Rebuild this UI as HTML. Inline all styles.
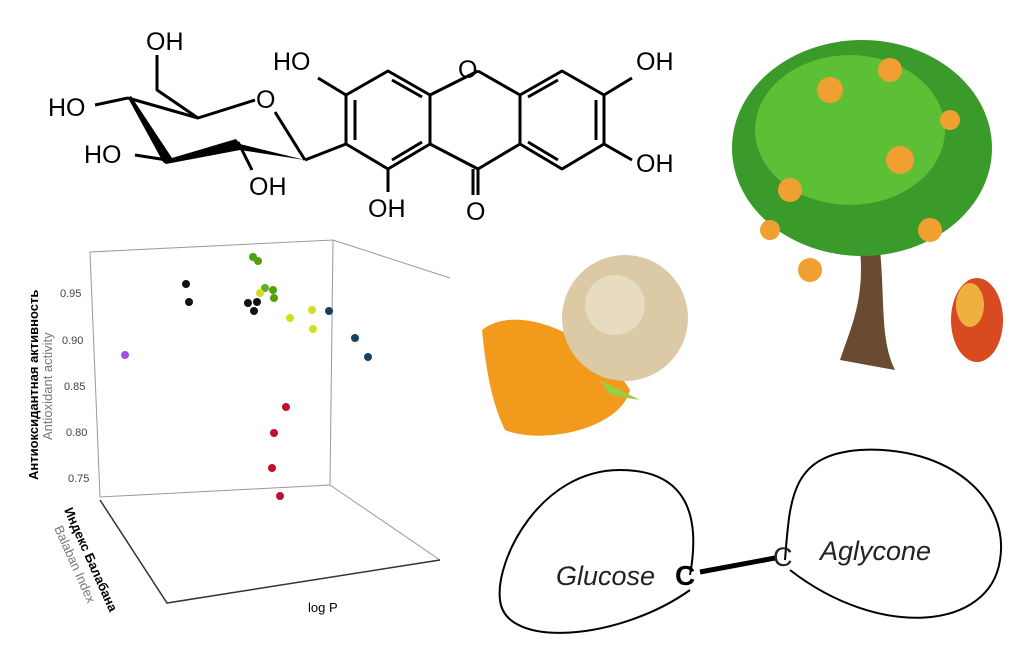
<!DOCTYPE html>
<html><head><meta charset="utf-8"><style>
html,body{margin:0;padding:0;background:#fff;}
svg{display:block;font-family:"Liberation Sans",sans-serif;}
</style></head><body>
<svg width="1028" height="672" viewBox="0 0 1028 672" xmlns="http://www.w3.org/2000/svg">
<rect width="1028" height="672" fill="#fff"/>
<!-- Chemical structure -->
<g stroke="#000" stroke-width="3" fill="none" stroke-linejoin="round">
<polygon points="388,71 430,95 430,144 388,169 346,144 346,95"/>
<path d="M430,95 L478,71 M478,71 L520,95 M430,144 L478,169 L520,144"/>
<polygon points="562,71 604,95 604,144 562,169 520,144 520,95"/>
<path d="M355,100 L355,140 M392,80 L422,97 M392,160 L422,142"/>
<path d="M596,100 L596,140 M558,80 L528,97 M558,160 L528,142"/>
<path d="M478,169 L478,195 M473,169 L473,195"/>
<path d="M346,95 L318,78 M604,95 L632,78 M604,144 L632,160 M388,169 L388,192"/>
<!-- sugar -->
<path d="M346,144 L305,160"/>
<path d="M305,160 L275,112 M255,100 L198,118 L128,98 M198,118 L157,90 L157,55"/>
<path d="M128,98 L95,105 M167,160 L135,155 M238,142 L252,170"/>
</g>
<polygon points="128,98 131,96 172,158 236,139 240,144 305,160 240,150 166,164 163,162" fill="#000"/>
<g font-size="25" fill="#000">
<text x="458" y="78">O</text>
<text x="273" y="70">HO</text>
<text x="636" y="70">OH</text>
<text x="636" y="172">OH</text>
<text x="368" y="217">OH</text>
<text x="466" y="220">O</text>
<text x="146" y="50">OH</text>
<text x="48" y="116">HO</text>
<text x="84" y="163">HO</text>
<text x="249" y="195">OH</text>
<text x="256" y="108">O</text>
</g>
<!-- tree -->
<path d="M860,250 C865,300 850,330 840,360 L895,370 C880,340 885,300 880,250 Z" fill="#6b4a32"/>
<ellipse cx="862" cy="148" rx="130" ry="108" fill="#3a9a2a"/>
<ellipse cx="850" cy="130" rx="95" ry="75" fill="#5cbf36"/>
<g fill="#f0a030">
<circle cx="900" cy="160" r="14"/><circle cx="830" cy="90" r="13"/><circle cx="790" cy="190" r="12"/>
<circle cx="930" cy="230" r="12"/><circle cx="810" cy="270" r="12"/><circle cx="890" cy="70" r="12"/>
<circle cx="950" cy="120" r="10"/><circle cx="770" cy="230" r="10"/>
</g>
<ellipse cx="977" cy="320" rx="26" ry="42" fill="#d84a20"/>
<ellipse cx="970" cy="305" rx="14" ry="22" fill="#f0b040"/>
<!-- mango -->
<path d="M482,330 C520,300 600,340 630,390 C620,430 540,445 505,430 C490,400 485,360 482,330 Z" fill="#f29a1c"/>
<path d="M600,380 L640,400 L610,395 Z" fill="#9ccc40"/>
<circle cx="625" cy="318" r="63" fill="#dccaa6"/>
<circle cx="615" cy="305" r="30" fill="#e8dcc0"/>
<!-- 3D plot -->
<g stroke="#999" stroke-width="1" fill="none">
<path d="M90,252 L100,497 L330,485 L333,240 Z"/>
<path d="M333,240 L450,278 M330,485 L440,560"/>
</g>
<path d="M100,500 L167,603 L440,560" stroke="#333" stroke-width="1.5" fill="none"/>
<g font-size="11" fill="#444">
<text x="60" y="297">0.95</text><text x="62" y="344">0.90</text><text x="64" y="390">0.85</text>
<text x="66" y="436">0.80</text><text x="68" y="482">0.75</text>
</g>
<text transform="translate(38,480) rotate(-90)" font-size="13" font-weight="bold" fill="#000">Антиоксидантная активность</text>
<text transform="translate(52,440) rotate(-90)" font-size="13" fill="#777">Antioxidant activity</text>
<text transform="translate(64,510) rotate(66)" font-size="13" font-weight="bold" fill="#000">Индекс Балабана</text>
<text transform="translate(54,528) rotate(66)" font-size="13" fill="#777">Balaban Index</text>
<text x="308" y="612" font-size="13" fill="#000">log P</text>
<g>
<circle cx="125" cy="355" r="4" fill="#a050e0"/>
<circle cx="186" cy="284" r="4" fill="#111"/><circle cx="189" cy="302" r="4" fill="#111"/>
<circle cx="248" cy="303" r="4" fill="#111"/><circle cx="257" cy="302" r="4" fill="#111"/><circle cx="254" cy="311" r="4" fill="#111"/>
<circle cx="253" cy="257" r="4" fill="#50a010"/><circle cx="258" cy="261" r="4" fill="#50a010"/>
<circle cx="265" cy="288" r="4" fill="#60b020"/><circle cx="273" cy="290" r="4" fill="#50a010"/><circle cx="274" cy="298" r="4" fill="#50a010"/>
<circle cx="260" cy="293" r="4" fill="#d0e020"/><circle cx="290" cy="318" r="4" fill="#d0e020"/>
<circle cx="312" cy="310" r="4" fill="#d0e020"/><circle cx="313" cy="329" r="4" fill="#d0e020"/>
<circle cx="329" cy="311" r="4" fill="#1a4060"/><circle cx="355" cy="338" r="4" fill="#1a4060"/><circle cx="368" cy="357" r="4" fill="#1a4060"/>
<circle cx="286" cy="407" r="4" fill="#c01030"/><circle cx="274" cy="433" r="4" fill="#c01030"/>
<circle cx="272" cy="468" r="4" fill="#c01030"/><circle cx="280" cy="496" r="4" fill="#c01030"/>
</g>
<!-- Glucose-aglycone -->
<g stroke="#000" stroke-width="2" fill="none">
<path d="M690,575 C700,520 690,470 620,470 C540,470 495,560 500,600 C505,650 620,640 690,590"/>
<path d="M785,560 C790,500 790,455 860,450 C950,445 1010,500 1000,560 C990,630 880,640 790,570"/>
</g>
<path d="M700,572 L775,558" stroke="#000" stroke-width="5"/>
<text x="556" y="585" font-size="27" font-style="italic" fill="#222">Glucose</text>
<text x="675" y="585" font-size="28" font-weight="bold" fill="#000">C</text>
<text x="773" y="566" font-size="27" fill="#222">C</text>
<text x="820" y="560" font-size="27" font-style="italic" fill="#222">Aglycone</text>
</svg>
</body></html>
